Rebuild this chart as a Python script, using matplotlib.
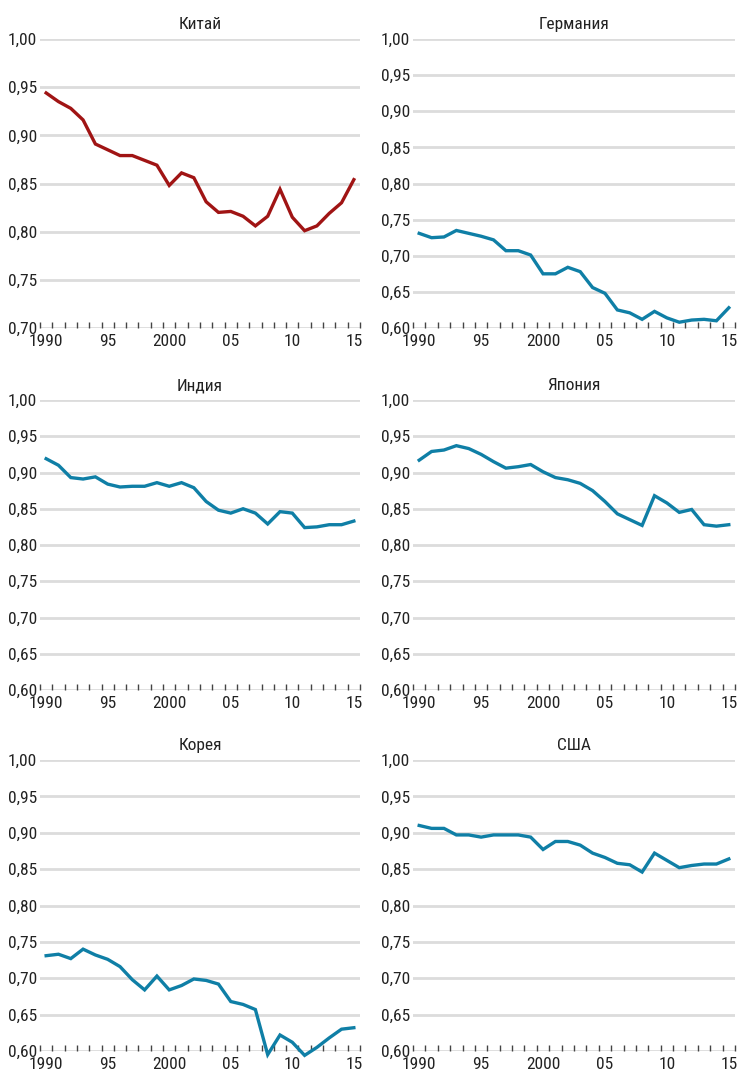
import matplotlib
matplotlib.use("Agg")
import matplotlib.pyplot as plt
import numpy as np
from matplotlib import font_manager

# a narrow face if one is installed, otherwise Roboto
names = {f.name for f in font_manager.fontManager.ttflist}
FONT = "Roboto"
for cand in ["Liberation Sans Narrow", "Roboto Condensed", "Open Sans Condensed"]:
    if cand in names:
        FONT = cand
        break
plt.rcParams['font.family'] = [FONT, 'DejaVu Sans']

years = list(range(1990, 2016))

china = [0.944, 0.935, 0.928, 0.916, 0.891, 0.885, 0.879, 0.879, 0.874, 0.869,
         0.848, 0.861, 0.856, 0.831, 0.820, 0.821, 0.816, 0.806, 0.816, 0.844,
         0.815, 0.801, 0.806, 0.819, 0.830, 0.854]
germany = [0.731, 0.725, 0.726, 0.735, 0.731, 0.727, 0.722, 0.707, 0.707, 0.701,
           0.675, 0.675, 0.684, 0.678, 0.656, 0.648, 0.625, 0.621, 0.612, 0.623,
           0.614, 0.608, 0.611, 0.612, 0.610, 0.628]
india = [0.919, 0.910, 0.893, 0.891, 0.894, 0.884, 0.880, 0.881, 0.881, 0.886,
         0.881, 0.886, 0.879, 0.860, 0.848, 0.844, 0.850, 0.844, 0.829, 0.846,
         0.844, 0.824, 0.825, 0.828, 0.828, 0.833]
japan = [0.917, 0.929, 0.931, 0.937, 0.933, 0.925, 0.915, 0.906, 0.908, 0.911,
         0.901, 0.893, 0.890, 0.885, 0.875, 0.860, 0.843, 0.835, 0.827, 0.868,
         0.858, 0.845, 0.849, 0.828, 0.826, 0.828]
korea = [0.731, 0.733, 0.727, 0.740, 0.732, 0.726, 0.716, 0.698, 0.684, 0.703,
         0.684, 0.690, 0.699, 0.697, 0.692, 0.668, 0.664, 0.657, 0.595, 0.622,
         0.612, 0.594, 0.605, 0.618, 0.630, 0.632]
usa = [0.910, 0.906, 0.906, 0.897, 0.897, 0.894, 0.897, 0.897, 0.897, 0.894,
       0.877, 0.888, 0.888, 0.883, 0.872, 0.866, 0.858, 0.856, 0.846, 0.872,
       0.862, 0.852, 0.855, 0.857, 0.857, 0.864]

titles = ["Китай", "Германия", "Индия", "Япония", "Корея", "США"]
series = [china, germany, india, japan, korea, usa]
ymins = [0.70, 0.60, 0.60, 0.60, 0.60, 0.60]
xtick_years = [1990, 1995, 2000, 2005, 2010, 2015]
xtick_labels = ["1990", "95", "2000", "05", "10", "15"]

RED = "#a01414"
BLUE = "#0f7fa6"
GRID = "#dcdcdc"
TXT = "#222222"
FS = 12.5

fig = plt.figure(figsize=(7.4, 10.79), dpi=100)

lefts = [40 / 740, 413 / 740]
widths = [320 / 740, 322 / 740]
# (top, bottom) pixel rows of each panel row
rows = [(39, 328), (400, 690), (760, 1051)]

for i, (title, vals) in enumerate(zip(titles, series)):
    r, c = divmod(i, 2)
    top, bot = rows[r]
    ax = fig.add_axes([lefts[c], 1 - bot / 1079, widths[c], (bot - top) / 1079])
    color = RED if i == 0 else BLUE
    ax.plot(years, vals, color=color, lw=2.4, solid_joinstyle='miter',
            clip_on=False, zorder=3)

    ymin = ymins[i]
    yt = np.round(np.arange(ymin, 1.0001, 0.05), 2)
    ax.set_ylim(ymin, 1.0)
    ax.set_xlim(1989.5, 2015.5)
    ax.set_yticks(yt)
    ax.set_yticklabels([f"{v:.2f}".replace(".", ",") for v in yt])
    for v in yt:
        ax.axhline(v, color=GRID, lw=2, zorder=1)

    ax.set_xticks([y + 0.5 for y in range(1989, 2016)], minor=False)
    ax.set_xticklabels([])
    ax.set_xticks(xtick_years, minor=True)
    ax.set_xticklabels(xtick_labels, minor=True)
    ax.tick_params(axis='x', which='major', direction='in', length=4,
                   width=1, color="#444444")
    ax.tick_params(axis='x', which='minor', length=0, pad=4,
                   labelsize=FS, labelcolor=TXT)
    ax.tick_params(axis='y', length=0, pad=2, labelsize=FS, labelcolor=TXT)

    for s in ax.spines.values():
        s.set_visible(False)

    ax.set_title(title, fontsize=FS, color=TXT, pad=7)

fig.savefig("out.png", dpi=100)
